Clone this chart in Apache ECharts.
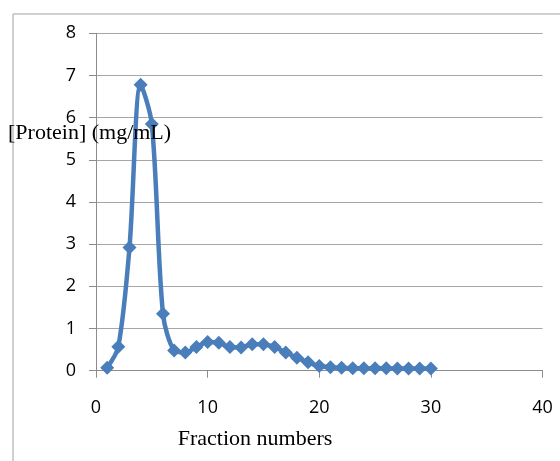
<!DOCTYPE html>
<html>
<head>
<meta charset="utf-8">
<script src="https://cdn.jsdelivr.net/npm/echarts@6/dist/echarts.min.js"></script>
<style>
html,body{margin:0;padding:0;background:#fff;}
#chart{width:560px;height:461px;}
</style>
</head>
<body>
<div id="chart"></div>
<script>
var fractions = [1,2,3,4,5,6,7,8,9,10,11,12,13,14,15,16,17,18,19,20,21,22,23,24,25,26,27,28,29,30];
var protein = [0.07,0.57,2.92,6.78,5.85,1.35,0.48,0.43,0.56,0.68,0.66,0.56,0.55,0.63,0.63,0.56,0.43,0.31,0.20,0.11,0.08,0.07,0.06,0.06,0.06,0.06,0.05,0.05,0.05,0.05];
var xTitle = 'Fraction numbers';
var yTitle = '[Protein] (mg/mL)';

var seriesData = fractions.map(function (f, i) { return [f, protein[i]]; });

var chart = echarts.init(document.getElementById('chart'), null, {renderer: 'canvas'});
chart.setOption({
  animation: false,
  backgroundColor: '#ffffff',
  grid: {left: 96, right: 17.5, top: 33.3, bottom: 90.3, containLabel: false},
  xAxis: {
    type: 'value', min: 0, max: 40, interval: 10,
    axisLine: {show: true, lineStyle: {color: '#8c8c8c', width: 1}},
    axisTick: {show: true, length: 7, inside: false, lineStyle: {color: '#8c8c8c'}},
    axisLabel: {color: '#000', fontFamily: 'Open Sans', fontSize: 18, margin: 28},
    splitLine: {show: false}
  },
  yAxis: {
    type: 'value', min: 0, max: 8, interval: 1,
    axisLine: {show: true, lineStyle: {color: '#8c8c8c', width: 1}},
    axisTick: {show: true, length: 7, lineStyle: {color: '#8c8c8c'}},
    axisLabel: {color: '#000', fontFamily: 'Open Sans', fontSize: 18, margin: 20},
    splitLine: {show: true, lineStyle: {color: '#a6a6a6', width: 1}}
  },
  series: [{
    type: 'line',
    data: seriesData,
    smooth: 0.3,
    symbol: 'diamond',
    symbolSize: 14,
    showAllSymbol: true,
    lineStyle: {color: '#4a7ebb', width: 4.5},
    itemStyle: {color: '#4a7ebb'}
  }],
  graphic: [
    {type: 'line', shape: {x1: 13, y1: 14, x2: 560, y2: 14}, style: {stroke: '#c0c0c0', lineWidth: 1.5}, silent: true},
    {type: 'line', shape: {x1: 13, y1: 14, x2: 13, y2: 461}, style: {stroke: '#c0c0c0', lineWidth: 1.5}, silent: true},
    {type: 'text', left: 8, top: 122, z: 100, style: {text: yTitle, fill: '#000', font: '22px "Liberation Serif", "Times New Roman", serif'}},
    {type: 'text', x: 255, y: 439, z: 100, style: {text: xTitle, fill: '#000', font: '22px "Liberation Serif", "Times New Roman", serif', textAlign: 'center', textVerticalAlign: 'middle'}}
  ]
});
</script>
</body>
</html>
